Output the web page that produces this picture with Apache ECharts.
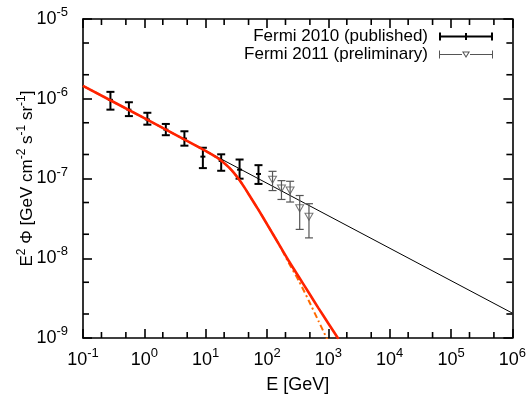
<!DOCTYPE html>
<html><head><meta charset="utf-8">
<script src="https://cdn.jsdelivr.net/npm/echarts@6/dist/echarts.min.js"></script>
<style>html,body{margin:0;padding:0;background:#fff}#c{width:529px;height:399px}</style>
</head><body><div id="c"></div><script>
// Fermi 2010 (published)
const fermi2010E  = [0.28, 0.56, 1.12, 2.24, 4.5, 9.0, 17.9, 35.7, 72.6];
const fermi2010V  = [9.7e-7, 7.3e-7, 5.5e-7, 4.1e-7, 3.17e-7, 1.88e-7, 1.66e-7, 1.29e-7, 1.14e-7];
const fermi2010Lo = [7.3e-7, 6.06e-7, 4.73e-7, 3.49e-7, 2.58e-7, 1.35e-7, 1.25e-7, 9.95e-8, 8.55e-8];
const fermi2010Hi = [1.22e-6, 9.04e-7, 6.67e-7, 4.83e-7, 3.91e-7, 2.43e-7, 2.01e-7, 1.73e-7, 1.47e-7];
// Fermi 2011 (preliminary)
const fermi2011E  = [123, 172, 238, 341, 483];
const fermi2011V  = [9.67e-8, 7.48e-8, 7.06e-8, 4.23e-8, 3.31e-8];
const fermi2011Lo = [7.06e-8, 5.46e-8, 5.07e-8, 2.3e-8, 1.8e-8];
const fermi2011Hi = [1.23e-7, 9.4e-8, 9.23e-8, 6.12e-8, 4.83e-8];
// power law (thin black)
const powerLawE = [0.1, 1e6];
const powerLawV = [1.45e-6, 2.05e-9];
// cutoff model (solid red)
const cutoffE = [0.1, 1, 9.49, 12.33, 15.42, 19.29, 24.13, 29.08, 35.04, 42.23, 50.89, 73.9, 107.4, 155.9, 226.4, 328.9, 477.6, 693.6, 1007, 1463];
const cutoffV = [1.45e-6, 5.71e-7, 2.267e-7, 2.021e-7, 1.82e-7, 1.601e-7, 1.368e-7, 1.17e-7, 9.718e-8, 7.847e-8, 6.247e-8, 3.958e-8, 2.438e-8, 1.501e-8, 9.24e-9, 5.86e-9, 3.713e-9, 2.352e-9, 1.512e-9, 9.72e-10];
// alternative cutoff model (orange dash-dot)
const altE = [0.1, 1, 9.49, 12.33, 15.42, 19.29, 24.13, 29.08, 35.04, 42.23, 50.89, 73.9, 107.4, 155.9, 226.4, 328.9, 477.6, 693.6, 935, 1086];
const altV = [1.45e-6, 5.71e-7, 2.267e-7, 2.021e-7, 1.82e-7, 1.601e-7, 1.368e-7, 1.17e-7, 9.718e-8, 7.847e-8, 6.247e-8, 3.958e-8, 2.438e-8, 1.501e-8, 8.73e-9, 5.23e-9, 2.955e-9, 1.624e-9, 1.0e-9, 7.73e-10];
// axis ranges and minor ticks
const xMin = 0.1, xMax = 1e6, yMin = 1e-9, yMax = 1e-5;
const xMinorTicks = [0.2,0.5,2,5,20,50,200,500,2e3,5e3,2e4,5e4,2e5,5e5];
const yMinorTicks = [2e-9,5e-9,2e-8,5e-8,2e-7,5e-7,2e-6,5e-6];

const FONT = '"Liberation Sans", Arial, Helvetica, sans-serif';
const zip = (a,b,c,d) => a.map((v,i) => d ? [v,b[i],c[i],d[i]] : [v,b[i]]);

function errRender(capW, lw, color, center) {
  return function (params, api) {
    const x = api.value(0);
    const pLo = api.coord([x, api.value(2)]);
    const pHi = api.coord([x, api.value(3)]);
    const pC = api.coord([x, api.value(1)]);
    const mk = () => ({stroke: color, lineWidth: lw, fill: null});
    const ch = [
      {type:'line', shape:{x1:pLo[0], y1:pLo[1], x2:pHi[0], y2:pHi[1]}, style: mk()},
      {type:'line', shape:{x1:pLo[0]-capW/2, y1:pLo[1], x2:pLo[0]+capW/2, y2:pLo[1]}, style: mk()},
      {type:'line', shape:{x1:pHi[0]-capW/2, y1:pHi[1], x2:pHi[0]+capW/2, y2:pHi[1]}, style: mk()}
    ];
    if (center) ch.push({type:'line', shape:{x1:pC[0]-2.5, y1:pC[1], x2:pC[0]+2.5, y2:pC[1]}, style: mk()});
    return {type:'group', children: ch};
  };
}
// minor ticks: drawn as small filled rects, each placed through the axis scales
function minorTickRender(params, api) {
  const mk = () => ({fill: '#000', stroke: null});
  const L = 6, W = 1.6;
  const ch = [];
  xMinorTicks.forEach(v => {
    const b = api.coord([v, yMin]), t = api.coord([v, yMax]);
    ch.push({type: 'rect', shape: {x: b[0] - W / 2, y: b[1] - L, width: W, height: L}, style: mk()});
    ch.push({type: 'rect', shape: {x: t[0] - W / 2, y: t[1], width: W, height: L}, style: mk()});
  });
  yMinorTicks.forEach(v => {
    const l = api.coord([xMin, v]), r = api.coord([xMax, v]);
    ch.push({type: 'rect', shape: {x: l[0], y: l[1] - W / 2, width: L, height: W}, style: mk()});
    ch.push({type: 'rect', shape: {x: r[0] - L, y: r[1] - W / 2, width: L, height: W}, style: mk()});
  });
  return {type: 'group', children: ch};
}
const labelFmt = v => '{b|10}{s|' + Math.round(Math.log10(v)) + '}';
const labelRich = {
  b: {fontSize: 18, lineHeight: 26, fontFamily: FONT, color: '#000'},
  s: {fontSize: 13, lineHeight: 12, verticalAlign: 'top', fontFamily: FONT, color: '#000'}
};
const lineStyle = {color: '#000', width: 1.6};

const icon2010 = 'path://M0,0h2v3h50v-3h2v8h-2v-3h-50v3h-2zM26,0.5h2v7h-2z';
const icon2011 = 'path://M0,0h1v3.5h22v1h-22v3.5h-1zM53,0h1v8h-1v-3.5h-22v-1h22zM23,1L31,1L27,7.5ZM24.8,2L27,5.6L29.2,2Z';

const chart = echarts.init(document.getElementById('c'), null, {renderer: 'canvas'});
chart.setOption({
  animation: false,
  backgroundColor: '#fff',
  grid: {left: 83, right: 14, top: 19, bottom: 57, containLabel: false},
  legend: {
    orient: 'vertical', right: 31, top: 23, align: 'right',
    itemWidth: 54, itemHeight: 8, itemGap: 1,
    symbolKeepAspect: false,
    selectedMode: false,
    textStyle: {fontSize: 17, fontFamily: FONT, color: '#000', lineHeight: 17, padding: [0, 6, 0, 0]},
    data: [
      {name: 'Fermi 2010 (published)', icon: icon2010, itemStyle: {color: '#000', borderWidth: 0}},
      {name: 'Fermi 2011 (preliminary)', icon: icon2011, itemStyle: {color: '#555', borderWidth: 0}}
    ]
  },
  xAxis: [
    {type: 'log', logBase: 10, min: xMin, max: xMax, interval: 1, position: 'bottom',
     name: 'E [GeV]', nameLocation: 'middle', nameGap: 38, nameMoveOverlap: false,
     nameTextStyle: {fontSize: 18, fontFamily: FONT, color: '#000'},
     axisLine: {show: true, onZero: false, lineStyle}, axisTick: {show: true, inside: true, length: 9, lineStyle},
     axisLabel: {show: true, margin: 9, formatter: labelFmt, rich: labelRich},
     splitLine: {show: false}, minorTick: {show: false}},
    {type: 'log', logBase: 10, min: xMin, max: xMax, interval: 1, position: 'top',
     axisLine: {show: true, onZero: false, lineStyle}, axisTick: {show: true, inside: true, length: 9, lineStyle},
     axisLabel: {show: false}, splitLine: {show: false}}
  ],
  yAxis: [
    {type: 'log', logBase: 10, min: yMin, max: yMax, interval: 1, position: 'left',
     name: '{t|E}{s|2}{t| Φ [GeV cm}{s|-2}{t| s}{s|-1}{t| sr}{s|-1}{t|]}',
     nameLocation: 'middle', nameGap: 45, nameRotate: 90, nameMoveOverlap: false,
     nameTextStyle: {fontFamily: FONT, color: '#000', rich: {
       t: {fontSize: 17, lineHeight: 22, fontFamily: FONT, color: '#000'},
       s: {fontSize: 12, lineHeight: 10, verticalAlign: 'top', fontFamily: FONT, color: '#000'}}},
     axisLine: {show: true, onZero: false, lineStyle}, axisTick: {show: true, inside: true, length: 9, lineStyle},
     axisLabel: {show: true, margin: 15, formatter: labelFmt, rich: labelRich},
     splitLine: {show: false}, minorTick: {show: false}},
    {type: 'log', logBase: 10, min: yMin, max: yMax, interval: 1, position: 'right',
     axisLine: {show: true, onZero: false, lineStyle}, axisTick: {show: true, inside: true, length: 9, lineStyle},
     axisLabel: {show: false}, splitLine: {show: false}}
  ],
  series: [
    {type: 'custom', name: 'minor ticks', data: [[1, 1e-7]], encode: {x: 0, y: 1},
     renderItem: minorTickRender, clip: false, silent: true, z: 6},
    {type: 'line', name: 'power law', data: zip(powerLawE, powerLawV), showSymbol: false, symbol: 'none',
     lineStyle: {color: '#000', width: 1}, z: 2, silent: true},
    {type: 'line', name: 'alt cutoff', data: zip(altE, altV), showSymbol: false, symbol: 'none', smooth: 0.2,
     lineStyle: {color: '#ff6a00', width: 2, type: [6, 3, 2, 3]}, z: 3, silent: true},
    {type: 'line', name: 'cutoff', data: zip(cutoffE, cutoffV), showSymbol: false, symbol: 'none', smooth: 0.2,
     lineStyle: {color: '#ff2200', width: 2.6}, z: 5, silent: true},
    {type: 'custom', name: 'Fermi 2010 (published)', renderItem: errRender(8, 2, '#000', true),
     data: zip(fermi2010E, fermi2010V, fermi2010Lo, fermi2010Hi), encode: {x: 0, y: 1}, z: 4},
    {type: 'custom', name: 'Fermi 2011 (preliminary)', renderItem: errRender(8, 1.2, '#555', false),
     data: zip(fermi2011E, fermi2011V, fermi2011Lo, fermi2011Hi), encode: {x: 0, y: 1}, z: 4},
    {type: 'scatter', name: 'Fermi 2011 markers', data: zip(fermi2011E, fermi2011V),
     symbol: 'triangle', symbolRotate: 180, symbolSize: [8, 7],
     itemStyle: {color: 'rgba(255,255,255,0)', borderColor: '#555', borderWidth: 1}, z: 4, silent: true}
  ]
});
</script></body></html>
